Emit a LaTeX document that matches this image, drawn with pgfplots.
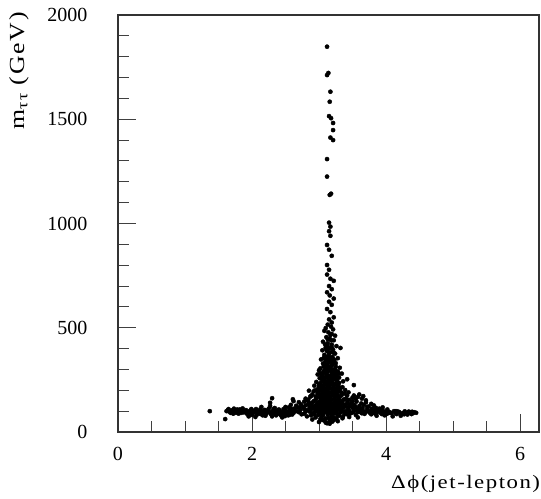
\documentclass[border=0pt]{standalone}
\usepackage{fontspec}
\setmainfont{Liberation Serif}
\newfontfamily\labelfont[FakeStretch=1.2, LetterSpace=8]{Liberation Serif}
\usepackage{pgfplots}
\pgfplotsset{compat=1.18}
\begin{document}
\begin{tikzpicture}
\useasboundingbox (-118bp,-67bp) rectangle (423bp,432bp);
\begin{axis}[
  at={(0,0)}, anchor=south west,
  scale only axis, width=421bp, height=417bp,
  xmin=0, xmax=6.2832, ymin=0, ymax=2000,
  xtick={0,2,4,6},
  minor xtick={0.5,1,1.5,2.5,3,3.5,4.5,5,5.5},
  ytick={0,500,1000,1500,2000},
  minor ytick={100,200,300,400,600,700,800,900,1100,1200,1300,1400,1600,1700,1800,1900},
  tick align=inside, xtick pos=bottom, ytick pos=left,
  major tick length=18bp, minor tick length=11bp,
  every tick/.style={black!75, line width=0.9bp},
  axis line style={black!80, line width=1.3bp},
  ticklabel style={font=\fontsize{20bp}{24bp}\selectfont},
  /pgf/number format/assume math mode=true,
  /pgf/number format/1000 sep={},
  xticklabel style={yshift=-12bp},
  yticklabel style={xshift=-27bp},
  xlabel={Δϕ(jet-lepton)},
  ylabel={m\textsubscript{ττ} (GeV)},
  xlabel style={at={(axis description cs:1.003,-0.104)}, anchor=north east, inner sep=0pt, font=\labelfont\fontsize{19bp}{23bp}\selectfont},
  ylabel style={at={(axis description cs:-0.235,1.007)}, anchor=east, inner sep=0pt, font=\labelfont\fontsize{21.5bp}{25bp}\selectfont},
]
\addplot[only marks, mark=*, mark size=2.1bp, black] coordinates {
(3.12,1848)(3.12,1712)(3.14,1722)(3.17,1632)(3.16,1584)(3.15,1515)(3.18,1505)
(3.21,1482)(3.21,1448)(3.17,1412)(3.21,1400)(3.12,1309)(3.12,1225)(3.16,1137)(3.18,1143)
(3.15,1004)(3.17,985)(3.15,963)(3.17,941)(3.12,897)(3.15,874)(3.19,845)
(3.12,801)(3.15,778)(3.12,755)(3.17,735)(3.22,725)(3.15,700)(3.19,685)(3.12,670)(3.16,655)
(3.22,640)(3.15,625)(3.19,610)(3.12,590)(3.17,575)(3.22,550)(3.15,540)(3.19,525)
(3.13,515)(3.18,505)(3.10,498)(3.21,492)
(3.08,485)(3.14,478)(3.19,470)(3.24,462)(3.11,455)(3.16,448)(3.22,440)(3.06,433)(3.13,426)
(3.19,419)(3.26,412)(3.10,405)(3.15,400)(3.32,403)(3.21,395)
(3.05,392)(3.12,388)(3.17,382)(3.24,376)(3.08,370)(3.14,365)(3.20,360)(3.28,354)(3.03,348)
(3.10,343)(3.16,338)(3.22,333)(3.06,328)(3.12,323)(3.18,318)(3.25,313)(3.31,308)(3.02,305)
(3.09,302)(3.15,300)
(3.00,296)(3.07,292)(3.13,289)(3.19,286)(3.26,283)(3.34,280)(2.98,276)(3.05,273)(3.11,270)
(3.17,267)(3.23,264)(3.30,261)(3.42,253)(3.01,258)(3.08,255)(3.14,252)(3.20,249)(3.27,246)
(3.36,243)(2.96,240)(3.03,237)(3.09,234)(3.15,231)(3.21,228)(3.28,225)(3.52,225)(2.93,222)
(3.00,219)(3.06,216)(3.12,213)(3.18,210)(3.24,207)(3.31,204)(3.39,201)(2.98,205)(3.35,215)
(3.05,245)(3.25,275)
(2.85,198)(2.92,195)(2.99,192)(3.06,189)(3.13,186)(3.20,183)(3.27,180)(3.34,178)(3.42,175)
(2.88,172)(2.95,170)(3.02,167)(3.09,165)(3.16,162)(3.23,160)(3.30,158)(3.37,156)(3.45,154)
(2.82,152)(2.87,170)(3.50,165)(3.55,160)(2.80,160)(2.30,162)(2.61,157)
(2.62,148)(2.70,143)(2.78,146)(2.85,140)(2.92,148)(2.99,142)(3.05,146)(3.11,139)(3.17,147)
(3.23,141)(3.29,145)(3.35,138)(3.42,144)(3.49,140)(3.56,146)(3.63,137)(3.70,142)(3.78,135)
(2.58,130)(2.66,126)(2.73,133)(2.80,128)(2.88,134)(2.95,127)(3.02,132)(3.08,125)(3.14,131)
(3.20,124)(3.26,133)(3.32,126)(3.39,130)(3.46,123)(3.53,129)(3.60,124)(3.67,130)(3.74,122)
(3.82,127)
(2.55,118)(2.63,112)(2.71,116)(2.78,110)(2.86,117)(2.93,111)(3.00,115)(3.06,108)(3.12,116)
(3.18,110)(3.24,114)(3.30,107)(3.37,117)(3.44,109)(3.51,113)(3.58,106)(3.65,115)(3.72,108)
(3.79,112)(3.86,105)(3.93,110)
(2.70,95)(2.78,88)(2.86,98)(2.93,84)(3.00,93)(3.06,80)(3.12,96)(3.18,86)(3.24,92)(3.30,78)
(3.36,97)(3.42,85)(3.48,91)(3.55,82)(3.62,95)(3.68,87)(2.95,70)(3.02,62)(3.08,55)(3.14,68)
(3.20,50)(3.26,64)(3.10,45)(3.16,40)(3.22,58)(2.90,60)(3.35,66)(3.45,72)(3.05,100)(3.15,102)
(3.25,104)(2.82,75)(3.58,70)
(3.52,175)(3.58,168)(3.64,160)(3.70,152)(3.60,180)(3.66,172)
(1.62,100)(1.65,110)(1.68,92)(1.70,104)(1.73,112)(1.75,96)(1.78,108)(1.80,88)(1.83,100)
(1.86,113)(1.88,94)(1.91,105)(1.93,86)(1.96,99)(1.99,110)(2.01,91)(2.04,103)(2.07,82)(2.09,97)
(2.12,108)(2.15,89)(2.17,101)(2.20,78)(2.23,94)(2.25,112)(2.28,86)(2.31,99)(2.33,107)(2.36,80)
(2.39,95)(2.41,103)(2.44,88)(2.47,110)(2.49,76)(2.52,98)(2.55,90)(2.57,106)(2.60,84)
(1.66,98)(1.72,88)(1.77,100)(1.84,92)(1.90,98)(1.97,84)(2.03,95)(2.10,90)(2.16,80)(2.22,100)
(2.29,92)(2.35,102)(2.42,95)(2.48,85)(2.54,80)(2.59,97)(2.05,72)(2.30,75)(2.45,70)(1.95,75)
(2.18,95)(2.38,88)(1.37,100)(1.60,62)
(3.80,98)(3.84,88)(3.88,104)(3.92,92)(3.96,100)(4.00,85)(4.04,96)(4.08,90)(4.12,100)(4.16,86)
(4.20,95)(4.24,88)(4.28,99)(4.32,84)(4.36,93)(4.40,90)(4.45,92)(3.86,78)(3.98,80)(4.10,75)
(4.22,78)(3.90,112)(4.02,108)(3.75,100)(3.78,85)
(2.62,92)(2.66,100)(2.74,85)(2.82,105)(2.90,90)(2.97,102)(3.03,88)(3.09,98)(3.21,100)(3.27,88)
(3.33,101)(3.39,90)(3.45,100)(3.51,95)(3.57,100)(3.64,90)(3.71,98)(3.76,92)
(3.03,160)(3.10,175)(3.17,190)(3.24,170)(3.06,205)(3.13,225)(3.20,240)(3.27,215)(3.04,265)
(3.11,280)(3.18,295)(3.25,255)(3.07,315)(3.14,335)(3.21,350)(3.09,360)(3.16,310)(3.23,290)
(3.01,180)(3.29,195)(3.13,200)(3.19,155)(3.08,150)(3.26,150)(2.97,165)(3.33,190)(3.00,230)
(3.30,235)(3.15,270)(3.10,320)
(2.76,120)(2.80,98)(2.84,132)(2.88,108)(2.91,122)(2.94,96)(2.97,138)(2.99,82)(3.01,104)
(3.03,124)(3.04,72)(3.06,140)(3.07,92)(3.09,115)(3.10,65)(3.11,128)(3.13,84)(3.14,108)
(3.15,142)(3.16,55)(3.17,120)(3.18,98)(3.19,75)(3.20,135)(3.21,112)(3.22,88)(3.23,68)
(3.25,125)(3.26,100)(3.28,80)(3.29,118)(3.31,140)(3.32,94)(3.34,112)(3.36,76)(3.38,128)
(3.40,100)(3.43,118)(3.46,88)(3.49,125)(3.52,104)(3.55,118)(3.59,96)(3.62,110)(3.66,100)
(2.72,105)(2.68,118)(2.64,100)(2.88,80)(3.00,48)(3.12,42)(3.18,62)(3.28,52)(3.05,58)
(2.98,118)(3.08,135)(3.24,148)(3.35,150)(2.90,140)(3.44,135)(3.50,148)(3.40,160)(2.84,155)
(2.95,155)
(2.98,185)(3.02,198)(3.05,178)(3.08,195)(3.11,158)(3.12,240)(3.14,178)(3.16,210)(3.18,172)
(3.19,262)(3.21,195)(3.22,222)(3.24,188)(3.26,235)(3.28,168)(3.30,215)(3.32,172)(3.04,222)
(3.07,248)(3.09,205)(3.10,285)(3.13,265)(3.16,245)(3.17,305)(3.20,278)(3.22,255)(3.24,300)
(3.27,265)(3.06,285)(3.08,330)(3.12,350)(3.14,310)(3.18,340)(3.20,325)(3.23,345)(3.15,375)
(3.11,395)(3.19,405)(3.13,445)(3.17,465)(3.05,255)(3.28,290)(2.94,200)(3.38,185)(2.90,180)
(3.44,190)(3.02,280)(3.30,280)
(1.64,105)(1.69,98)(1.74,104)(1.79,94)(1.82,108)(1.87,100)(1.92,92)(1.98,104)(2.02,100)
(2.06,110)(2.11,98)(2.14,95)(2.19,106)(2.21,88)(2.26,96)(2.32,90)(2.37,98)(2.40,108)
(2.43,80)(2.46,96)(2.50,104)(2.53,88)(2.56,100)(2.58,112)(2.14,120)(2.27,125)(2.50,120)
(2.34,115)(3.82,92)(3.87,96)(3.94,86)(4.00,98)(4.06,94)(4.14,92)(4.18,98)(4.26,92)(4.30,92)
(4.34,98)(4.38,86)(4.42,95)(3.95,118)(3.85,115)(3.72,120)(2.27,140)
(2.96,112)(3.00,128)(3.04,110)(3.07,120)(3.10,100)(3.13,122)(3.16,92)(3.19,130)(3.23,104)
(3.27,112)(3.30,128)(3.33,118)(3.02,150)(3.06,165)(3.10,190)(3.14,150)(3.18,230)(3.22,178)
(3.26,198)(3.29,165)(3.03,210)(3.09,260)(3.15,215)(3.21,300)(3.12,170)(3.24,230)(3.17,250)
(3.08,225)(3.20,205)(3.11,305)(3.19,320)(3.25,330)(3.07,355)(3.17,355)(3.13,410)(3.22,380)
(3.18,440)(3.09,420)
(1.70,96)(1.76,92)(1.85,106)(1.94,96)(2.00,82)(2.08,100)(2.13,86)(2.24,104)(2.32,110)
(2.40,90)(2.51,92)(2.56,82)(3.83,102)(3.91,100)(4.03,90)(4.15,100)(4.27,85)(4.39,97)
};
\end{axis}
\end{tikzpicture}
\end{document}
